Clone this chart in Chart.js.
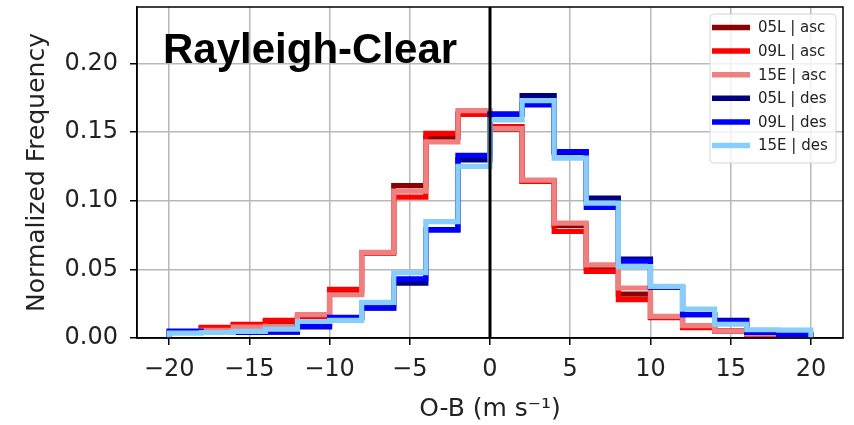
<!DOCTYPE html>
<html>
<head>
<meta charset="utf-8">
<script src="https://cdn.jsdelivr.net/npm/chart.js@4/dist/chart.umd.min.js"></script>
<style>
  html, body { margin: 0; padding: 0; background: #ffffff; }
  #wrap { width: 854px; height: 425px; }
</style>
</head>
<body>
<div id="wrap"><canvas id="chart" width="854" height="425"></canvas></div>
<script>
// Histogram bin edges (O-B, m/s) and normalized frequency per bin
const binEdges = [-20, -18, -16, -14, -12, -10, -8, -6, -4, -2, 0, 2, 4, 6, 8, 10, 12, 14, 16, 18, 20];

const seriesLabels = ['05L | asc', '09L | asc', '15E | asc', '05L | des', '09L | des', '15E | des'];
const seriesColors = ['#8B0000', '#FF0000', '#F08080', '#000080', '#0000FF', '#87CEFA'];

const asc05L = [0.004, 0.007, 0.0095, 0.012, 0.016, 0.033, 0.062, 0.111, 0.146, 0.163, 0.152, 0.114, 0.082, 0.051, 0.032, 0.015, 0.008, 0.005, 0.003, 0.0015];
const asc09L = [0.004, 0.0077, 0.010, 0.0128, 0.015, 0.0355, 0.062, 0.1025, 0.149, 0.163, 0.154, 0.114, 0.0776, 0.0485, 0.028, 0.0148, 0.0075, 0.005, 0.0025, 0.0015];
const asc15E = [0.004, 0.0055, 0.008, 0.0085, 0.017, 0.0315, 0.0623, 0.107, 0.1428, 0.1655, 0.1525, 0.115, 0.0836, 0.0533, 0.0364, 0.0157, 0.009, 0.005, 0.003, 0.0015];
const des05L = [0.004, 0.004, 0.004, 0.0042, 0.008, 0.0145, 0.022, 0.040, 0.079, 0.1297, 0.163, 0.1765, 0.135, 0.1018, 0.0575, 0.037, 0.017, 0.0128, 0.0045, 0.0025];
const des09L = [0.005, 0.004, 0.004, 0.0044, 0.0084, 0.015, 0.0218, 0.0431, 0.0785, 0.133, 0.163, 0.1697, 0.1357, 0.095, 0.056, 0.037, 0.017, 0.0122, 0.004, 0.0024];
const des15E = [0.0036, 0.004, 0.0048, 0.0065, 0.012, 0.0128, 0.0259, 0.0475, 0.0848, 0.125, 0.1588, 0.1728, 0.131, 0.0982, 0.052, 0.0376, 0.021, 0.010, 0.006, 0.0057];

const seriesValues = [asc05L, asc09L, asc15E, des05L, des09L, des15E];

const xTicks = [-20, -15, -10, -5, 0, 5, 10, 15, 20];
const yTicks = [0, 0.05, 0.10, 0.15, 0.20];

const titleText = 'Rayleigh-Clear';
const xTitle = 'O-B (m s\u207B\u00B9)';
const yTitle = 'Normalized Frequency';

// Outline of a step histogram: rises from the baseline at the first edge,
// runs across each bin, and drops back to the baseline at the last edge.
function stepOutline(values) {
  const pts = [{ x: binEdges[0], y: 0 }];
  values.forEach((v, i) => pts.push({ x: binEdges[i], y: v }));
  const last = binEdges[binEdges.length - 1];
  pts.push({ x: last, y: values[values.length - 1] });
  pts.push({ x: last, y: 0 });
  return pts;
}

const datasets = seriesValues.map((vals, i) => ({
  label: seriesLabels[i],
  data: stepOutline(vals),
  borderColor: seriesColors[i],
  backgroundColor: seriesColors[i],
  borderWidth: 5.2,
  stepped: 'before',
  fill: false,
  pointRadius: 0,
  pointHoverRadius: 0,
  borderJoinStyle: 'miter',
  borderCapStyle: 'butt',
  order: seriesValues.length - i   // later series are painted on top
}));

const tickFont = { family: '"DejaVu Sans", sans-serif', size: 24 };
const labelFont = { family: '"DejaVu Sans", sans-serif', size: 25 };
const textColor = '#222222';

const decorations = {
  id: 'decorations',
  afterDatasetsDraw(chart) {
    const { ctx, chartArea: a, scales } = chart;
    ctx.save();
    // vertical reference line at zero
    const x0 = scales.x.getPixelForValue(0);
    ctx.strokeStyle = '#000000';
    ctx.lineWidth = 3;
    ctx.beginPath();
    ctx.moveTo(x0, a.top);
    ctx.lineTo(x0, a.bottom);
    ctx.stroke();
    // frame around the plotting area
    ctx.lineWidth = 1.5;
    ctx.strokeRect(a.left, a.top, a.right - a.left, a.bottom - a.top);
    ctx.restore();
  },
  afterDraw(chart) {
    const { ctx } = chart;
    ctx.save();
    // panel title
    ctx.fillStyle = '#000000';
    ctx.font = 'bold 42px "Liberation Sans", Arial, sans-serif';
    ctx.textBaseline = 'alphabetic';
    ctx.textAlign = 'left';
    ctx.fillText(titleText, 163, 63);

    // legend box in the upper right corner
    const bx = 710, by = 14, bw = 126, bh = 149, r = 4;
    ctx.beginPath();
    ctx.moveTo(bx + r, by);
    ctx.arcTo(bx + bw, by, bx + bw, by + bh, r);
    ctx.arcTo(bx + bw, by + bh, bx, by + bh, r);
    ctx.arcTo(bx, by + bh, bx, by, r);
    ctx.arcTo(bx, by, bx + bw, by, r);
    ctx.closePath();
    ctx.fillStyle = 'rgba(255,255,255,0.8)';
    ctx.fill();
    ctx.strokeStyle = '#d6d6d6';
    ctx.lineWidth = 1;
    ctx.stroke();

    ctx.font = '15px "DejaVu Sans", sans-serif';
    ctx.textBaseline = 'middle';
    chart.data.datasets.forEach((ds, i) => {
      const y = 27.5 + i * 23.6;
      ctx.strokeStyle = ds.borderColor;
      ctx.lineWidth = 5.5;
      ctx.beginPath();
      ctx.moveTo(712, y);
      ctx.lineTo(750, y);
      ctx.stroke();
      ctx.fillStyle = textColor;
      ctx.fillText(ds.label, 758, y + 1);
    });
    ctx.restore();
  }
};

new Chart(document.getElementById('chart'), {
  type: 'line',
  data: { datasets },
  options: {
    responsive: false,
    devicePixelRatio: 1,
    animation: false,
    events: [],
    layout: { padding: { left: 0, top: 7, right: 11, bottom: 0 } },
    plugins: {
      legend: { display: false },
      title: { display: false },
      tooltip: { enabled: false }
    },
    scales: {
      x: {
        type: 'linear',
        min: -22,
        max: 22,
        afterFit(scale) {
          scale.height = 87;
          scale.paddingLeft = 0;
          scale.paddingRight = 0;
        },
        afterBuildTicks(scale) { scale.ticks = xTicks.map(v => ({ value: v })); },
        ticks: {
          autoSkip: false,
          maxRotation: 0,
          padding: 10,
          color: textColor,
          font: tickFont,
          callback: v => (v < 0 ? '\u2212' + Math.abs(v) : String(v))
        },
        grid: {
          color: '#b8b8b8',
          lineWidth: 1.5,
          tickLength: 7,
          tickColor: '#000000',
          tickWidth: 1.5
        },
        border: { display: true, color: '#000000', width: 1.5 },
        title: {
          display: true,
          text: xTitle,
          color: textColor,
          font: labelFont,
          padding: { top: 0, bottom: 1 }
        }
      },
      y: {
        type: 'linear',
        min: 0,
        max: 0.241,
        afterFit(scale) {
          scale.width = 137;
          scale.paddingTop = 0;
          scale.paddingBottom = 0;
        },
        afterBuildTicks(scale) { scale.ticks = yTicks.map(v => ({ value: v })); },
        ticks: {
          autoSkip: false,
          padding: 12,
          color: textColor,
          font: tickFont,
          callback: v => v.toFixed(2)
        },
        grid: {
          color: '#b8b8b8',
          lineWidth: 1.5,
          tickLength: 7,
          tickColor: '#000000',
          tickWidth: 1.5
        },
        border: { display: true, color: '#000000', width: 1.5 },
        title: {
          display: true,
          text: yTitle,
          color: textColor,
          font: labelFont,
          padding: { top: 22, bottom: 0 }
        }
      }
    }
  },
  plugins: [decorations]
});
</script>
</body>
</html>
